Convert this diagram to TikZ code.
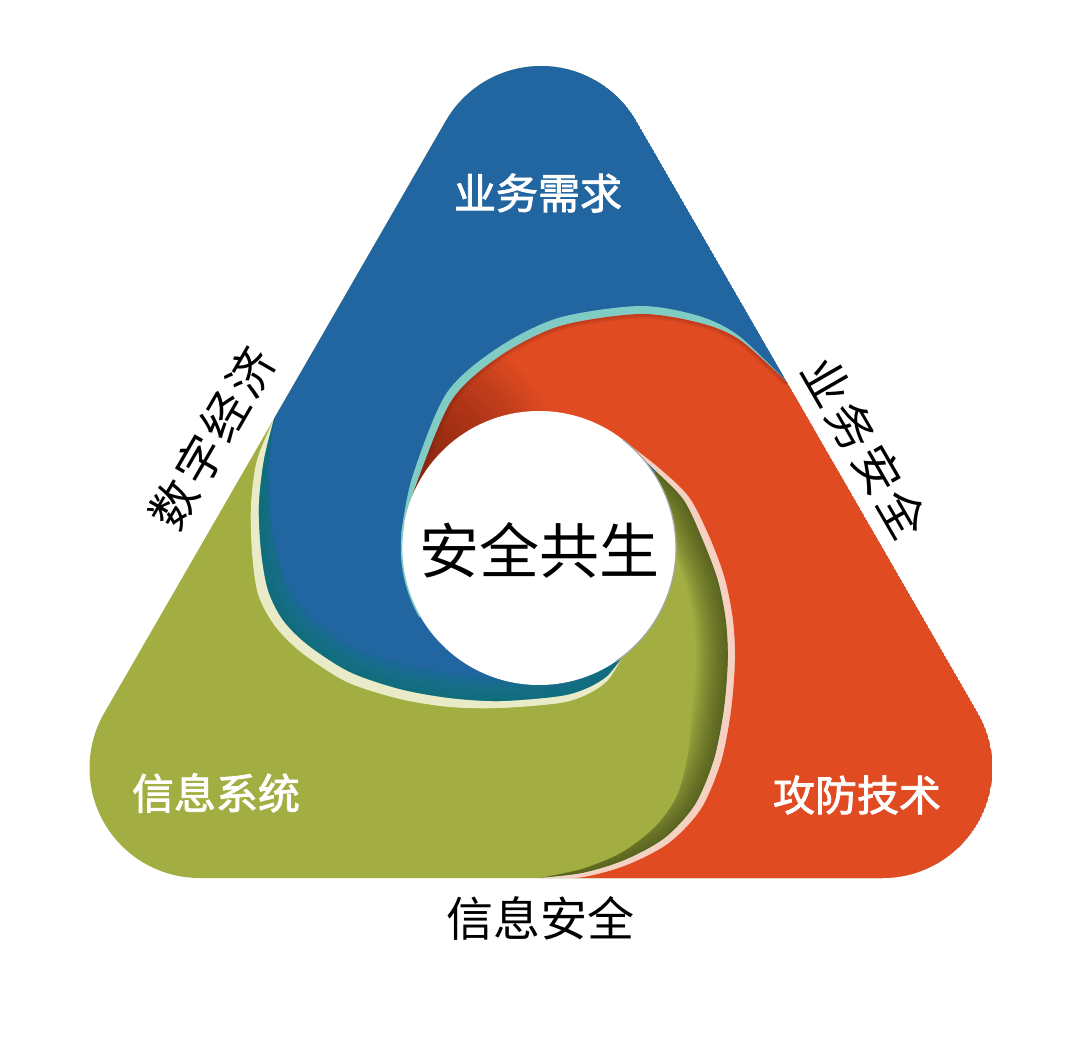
\documentclass[tikz,border=0pt]{standalone}
\usepackage{fontspec}
\newfontfamily\cjk{Noto Sans CJK SC}
\newfontfamily\cjkb[FakeBold=2]{Noto Sans CJK SC}
\definecolor{blueC}{RGB}{33,101,161}
\definecolor{redC}{RGB}{224,75,34}
\definecolor{greenC}{RGB}{162,174,66}
\definecolor{tealC}{RGB}{128,204,196}
\definecolor{creamC}{RGB}{233,235,200}
\definecolor{pinkC}{RGB}{246,208,192}
\definecolor{olivedark}{RGB}{45,55,15}
\definecolor{reddark}{RGB}{110,30,18}
\definecolor{tealdark}{RGB}{10,125,105}
% triangle outline
\newcommand{\tri}{(445.74,121) arc[start angle=210,end angle=330,radius=110] -- (977.76,713) arc[start angle=-30,end angle=90,radius=110] -- (199.5,878) arc[start angle=90,end angle=210,radius=110] -- cycle}
% curves
\newcommand{\redcurve}{-- plot[smooth] coordinates {(787.8,383) (740,340) (700,323) (640,314) (560,326) (500,356) (452,400) (418,480) (403.6,527)}}
\newcommand{\redcurveexp}{-- plot[smooth] coordinates {(787.8,383) (739,336) (699,316) (640,306) (558,318) (496,349) (446,394) (412,478) (401,535)}}
\newcommand{\greencurve}{-- plot[smooth] coordinates {(623,440) (655,470) (684,500) (703,540) (718,580) (726,620) (728,660) (724,710) (714,760) (695,805) (665,838) (625,860) (583,873) (540,878)}}
\newcommand{\greenshift}{-- plot[smooth] coordinates {(623,440) (658,467) (689,497) (710,538) (725,579) (733,620) (735,660) (731,711) (721,762) (701,809) (669,843) (627,865) (584,877) (545,879)}}
\newcommand{\greeninner}{-- plot[smooth] coordinates {(540,878) (582,869) (621,853) (654,828) (676,798) (687,760) (692,710) (694,660) (692,620) (672,545) (610,480)}}
\newcommand{\bluecurve}{-- plot[smooth] coordinates {(623,656) (607,676) (587,688) (560,696) (500,701) (450,698) (400,689) (350,672) (308,645) (283,620) (268,590) (261,550) (259,505) (264,460) (274.3,418)}}
\newcommand{\bluecurveexp}{-- plot[smooth] coordinates {(623,656) (608,680) (588,694) (560,703) (500,708) (450,707) (400,699) (347,682) (302,653) (275,626) (258,594) (252,552) (251,505) (257,460) (274.3,418)}}
\newcommand{\blueinner}{-- plot[smooth] coordinates {(274.3,418) (268,470) (272,530) (285,580) (310,615) (350,645) (400,662) (450,672) (500,676) (560,670) (600,640)}}
\newcommand{\blueshape}[1]{(539,548) -- (623,656) #1 -- (445.74,121) arc[start angle=210,end angle=330,radius=110] -- (787.8,383) -- cycle}
\newcommand{\redshape}[2]{(787.8,383) #1 -- (623,440) #2 -- (882.5,878) arc[start angle=90,end angle=-30,radius=110] -- cycle}
\tikzset{
  wlab/.style={text=white, font=\cjkb\fontsize{42}{42}\selectfont, inner sep=0pt},
  blab/.style={text=black, font=\cjk\fontsize{47}{47}\selectfont, inner sep=0pt},
  clab/.style={text=black, font=\cjk\fontsize{60}{60}\selectfont, inner sep=0pt},
  shadowline/.style={line cap=round, line join=round}
}
\begin{document}
\begin{tikzpicture}[x=1pt,y=-1pt]
\useasboundingbox (0,0) rectangle (1082,1038);
\fill[white] (0,0) rectangle (1082,1038);
\begin{scope}
  \clip \tri;
  \fill[greenC] \tri;
  % green tail shadow
  \begin{scope}
    \clip (539,548) -- (623,440) \greencurve -- cycle;
    \clip (623,440) \greencurve \greeninner -- cycle;
    \foreach \w in {4,8,...,64}{
      \draw[olivedark, opacity=0.05, line width=\w pt, shadowline] (623,440) \greencurve;}
  \end{scope}
  % blue region with cream rim
  \fill[creamC] \blueshape{\bluecurveexp};
  \fill[blueC] \blueshape{\bluecurve};
  \begin{scope}
    \clip (539,548) -- (623,656) \bluecurve -- cycle;
    \clip (623,656) \bluecurve \blueinner -- cycle;
    \foreach \w in {4,8,...,56}{
      \draw[tealdark, opacity=0.06, line width=\w pt, shadowline] (623,656) \bluecurve;}
  \end{scope}
  % red region with teal and pink rims
  \fill[tealC] \redshape{\redcurveexp}{\greencurve};
  \fill[pinkC] \redshape{\redcurve}{\greencurve};
  \fill[redC] \redshape{\redcurve}{\greenshift};
  \begin{scope}
    \clip (539,548) -- (787.8,383) \redcurve -- cycle;
    \foreach \r in {6,12,...,138}{
      \fill[reddark, opacity=0.045] (420,465) circle[radius=\r];}
    \foreach \w in {3,6,9}{
      \draw[reddark, opacity=0.1, line width=\w pt, shadowline] (787.8,383) \redcurve;}
  \end{scope}
  % centre circle
  \fill[white] (539,548) circle[radius=137];
  \draw[tealC, line width=1.5pt] (539,548) ++(150:137.5) arc[start angle=150,end angle=190,radius=137.5];
  \draw[gray!70, line width=1.2pt] (539,548) ++(-52:137) arc[start angle=-52,end angle=56,radius=137];
\end{scope}
% labels
\node[wlab] (lab1) at (538,193) {业务需求};
\node[wlab] (lab2) at (216,793) {信息系统};
\node[wlab] (lab3) at (857,795) {攻防技术};
\node[clab] (lab4) at (539,550) {安全共生};
\node[blab] (lab5) at (540,918) {信息安全};
\node[blab, rotate=60] (lab6) at (212,438) {数\hspace{4pt}字\hspace{4pt}经\hspace{4pt}济};
\node[blab, rotate=-60] (lab7) at (865,448) {业\hspace{4pt}务\hspace{4pt}安\hspace{4pt}全};
\end{tikzpicture}
\end{document}
